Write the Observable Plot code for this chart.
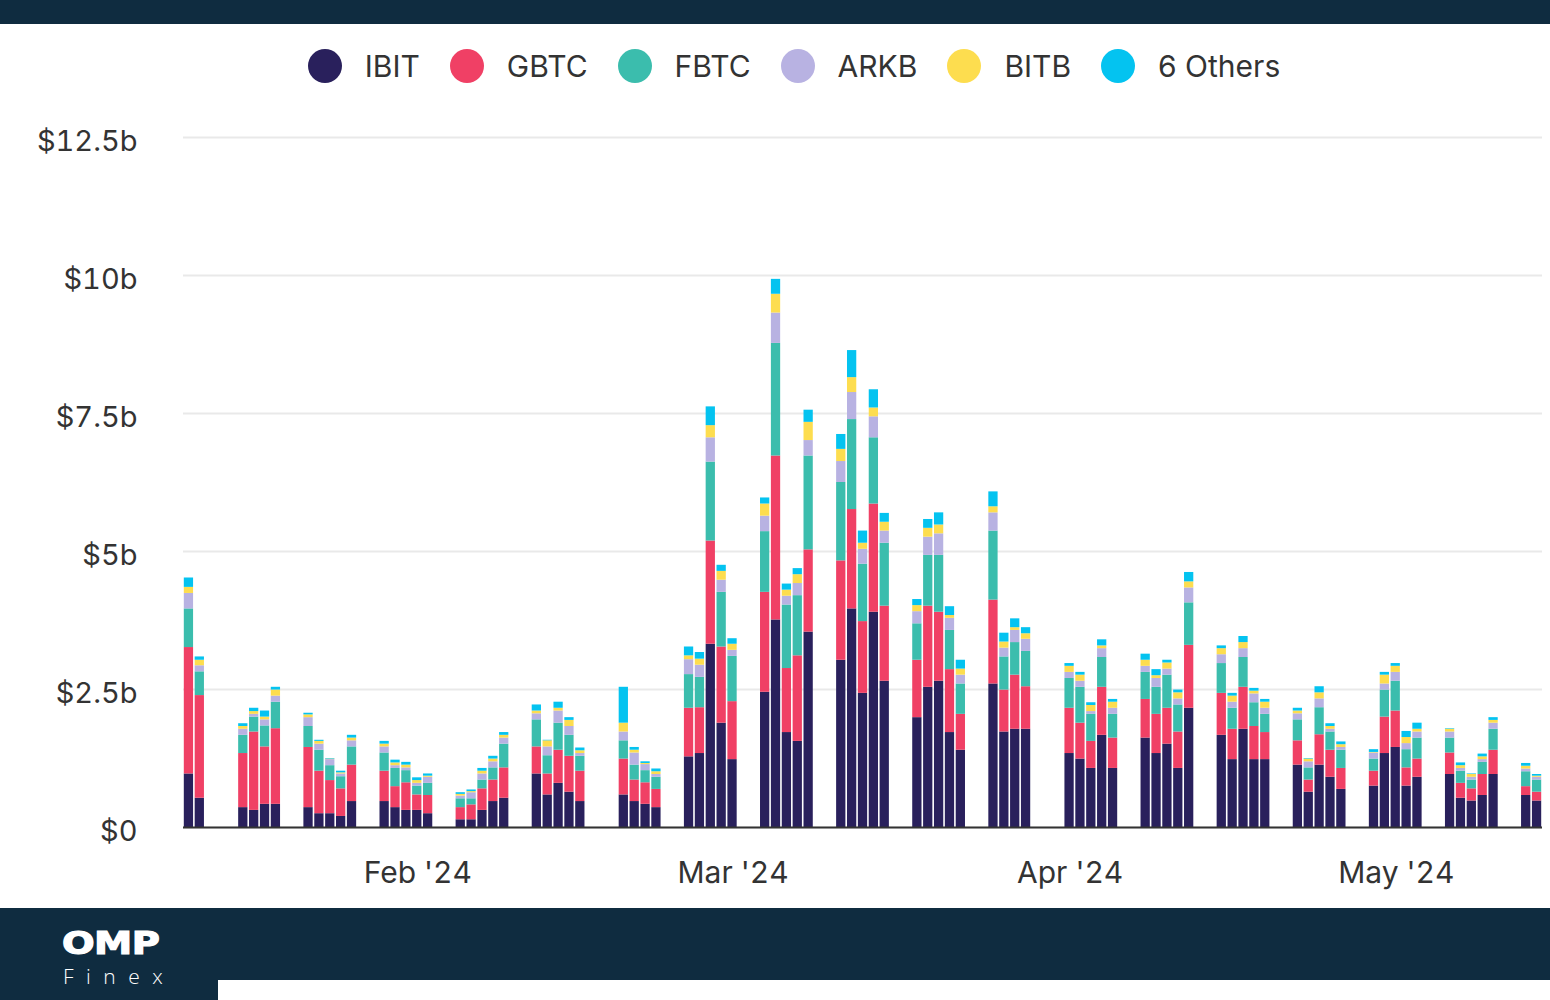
<!DOCTYPE html>
<html>
<head>
<meta charset="utf-8">
<script src="https://cdn.jsdelivr.net/npm/d3@7"></script>
<script src="https://cdn.jsdelivr.net/npm/@observablehq/plot@0.6"></script>
<style>
  html, body { margin: 0; padding: 0; background: #fff; }
  #page { position: relative; width: 1550px; height: 1000px; overflow: hidden; background: #fff; font-family: Inter, "Open Sans", sans-serif; }
  #topband { position: absolute; left: 0; top: 0; width: 1550px; height: 24px; background: #0f2c40; }
  #legend { position: absolute; left: 0; top: 44px; width: 1550px; padding-left: 38px; box-sizing: border-box; display: flex; justify-content: center; align-items: center; height: 44px; }
  .item { display: flex; align-items: center; margin: 0 15px; }
  .sw { width: 34px; height: 34px; border-radius: 50%; margin-right: 23px; }
  .lab { font-size: 30px; color: #333; }
  #chart { position: absolute; left: 0; top: 110px; }
  #footer { position: absolute; left: 0; top: 908px; width: 1550px; height: 92px; background: #0f2c40; }
  #white { position: absolute; left: 218px; top: 980px; width: 1332px; height: 20px; background: #fff; }
  #omp { position: absolute; left: 62px; top: 927px; font-family: "DejaVu Sans", sans-serif; font-weight: 700; font-size: 32px; color: #fff; line-height: 1; letter-spacing: -0.5px; transform: scaleX(1.2); transform-origin: left top; white-space: nowrap; -webkit-text-stroke: 1.2px #fff; }
  #finex { position: absolute; left: 63px; top: 966px; font-family: "Open Sans", sans-serif; font-weight: 300; font-size: 21px; color: #fff; letter-spacing: 12.5px; line-height: 1; white-space: nowrap; }
</style>
</head>
<body>
<div id="page">
  <div id="topband"></div>
  <div id="legend"></div>
  <div id="chart"></div>
  <div id="footer"></div>
  <div id="white"></div>
  <div id="omp">OMP</div>
  <div id="finex">Finex</div>
</div>
<script>
const tickers = ["IBIT", "GBTC", "FBTC", "ARKB", "BITB", "6 Others"];
const colors = ["#29205c", "#f04065", "#3bbdad", "#b8b2e2", "#fddd4f", "#04c3f0"];
const yTicks = [0, 2.5, 5, 7.5, 10, 12.5];
const monthTicks = ["2024-02-01", "2024-03-01", "2024-04-01", "2024-05-01"];

const dates = [
  "2024-01-11","2024-01-12","2024-01-16","2024-01-17","2024-01-18","2024-01-19","2024-01-22","2024-01-23","2024-01-24","2024-01-25","2024-01-26","2024-01-29","2024-01-30","2024-01-31",
  "2024-02-01","2024-02-02","2024-02-05","2024-02-06","2024-02-07","2024-02-08","2024-02-09","2024-02-12","2024-02-13","2024-02-14","2024-02-15","2024-02-16","2024-02-20","2024-02-21","2024-02-22","2024-02-23","2024-02-26","2024-02-27","2024-02-28","2024-02-29",
  "2024-03-01","2024-03-04","2024-03-05","2024-03-06","2024-03-07","2024-03-08","2024-03-11","2024-03-12","2024-03-13","2024-03-14","2024-03-15","2024-03-18","2024-03-19","2024-03-20","2024-03-21","2024-03-22","2024-03-25","2024-03-26","2024-03-27","2024-03-28",
  "2024-04-01","2024-04-02","2024-04-03","2024-04-04","2024-04-05","2024-04-08","2024-04-09","2024-04-10","2024-04-11","2024-04-12","2024-04-15","2024-04-16","2024-04-17","2024-04-18","2024-04-19","2024-04-22","2024-04-23","2024-04-24","2024-04-25","2024-04-26","2024-04-29","2024-04-30",
  "2024-05-01","2024-05-02","2024-05-03","2024-05-06","2024-05-07","2024-05-08","2024-05-09","2024-05-10","2024-05-13","2024-05-14"
];

// daily trading volume, $ billions
const ibit = [
  0.97,0.53,0.36,0.31,0.42,0.42,0.36,0.25,0.25,0.20,0.47,0.47,0.36,0.31,
  0.31,0.25,0.14,0.14,0.31,0.47,0.53,0.97,0.59,0.80,0.64,0.47,0.59,0.47,0.42,0.36,1.28,1.34,3.32,1.89,
  1.23,2.45,3.76,1.72,1.56,3.54,3.03,3.96,2.43,3.90,2.65,1.99,2.54,2.65,1.72,1.40,2.60,1.73,1.78,1.78,
  1.34,1.24,1.07,1.67,1.07,1.62,1.34,1.51,1.07,2.16,1.67,1.23,1.78,1.23,1.23,1.13,0.64,1.13,0.91,0.69,0.75,1.34,
  1.45,0.75,0.91,0.96,0.53,0.48,0.58,0.96,0.58,0.48
];
const gbtc = [
  2.29,1.86,0.98,1.42,1.04,1.37,1.09,0.77,0.60,0.50,0.66,0.55,0.38,0.50,
  0.28,0.33,0.22,0.27,0.39,0.39,0.55,0.49,0.38,0.60,0.65,0.55,0.65,0.39,0.39,0.33,0.88,0.83,1.87,1.38,
  1.05,1.81,2.97,1.16,1.55,1.49,1.80,1.80,1.30,1.96,1.36,1.04,1.47,1.25,1.14,0.65,1.52,0.76,0.98,0.77,
  0.82,0.65,0.49,0.87,0.55,0.70,0.71,0.65,0.66,1.14,0.76,0.55,0.76,0.60,0.49,0.44,0.22,0.55,0.49,0.38,0.27,0.66,
  0.66,0.33,0.33,0.39,0.27,0.22,0.38,0.44,0.16,0.16
];
const fbtc = [
  0.70,0.43,0.33,0.27,0.38,0.48,0.38,0.38,0.27,0.22,0.33,0.33,0.33,0.22,
  0.16,0.22,0.16,0.11,0.16,0.22,0.43,0.49,0.33,0.49,0.38,0.27,0.33,0.27,0.22,0.22,0.61,0.55,1.43,0.99,
  0.82,1.10,2.04,1.15,1.09,1.70,1.42,1.63,1.04,1.20,1.14,0.66,0.92,1.03,0.71,0.55,1.25,0.60,0.59,0.64,
  0.54,0.65,0.49,0.54,0.43,0.49,0.49,0.60,0.49,0.77,0.54,0.38,0.54,0.43,0.33,0.38,0.22,0.49,0.33,0.33,0.22,0.49,
  0.54,0.33,0.38,0.27,0.22,0.16,0.22,0.38,0.27,0.22
];
const arkb = [
  0.28,0.11,0.11,0.05,0.11,0.11,0.16,0.11,0.11,0.05,0.11,0.11,0.05,0.05,
  0.05,0.11,0.05,0.11,0.11,0.11,0.11,0.11,0.16,0.22,0.16,0.05,0.16,0.22,0.11,0.05,0.27,0.22,0.44,0.22,
  0.11,0.28,0.55,0.16,0.22,0.28,0.38,0.49,0.27,0.38,0.22,0.22,0.33,0.39,0.22,0.16,0.33,0.16,0.22,0.22,
  0.11,0.11,0.05,0.16,0.11,0.11,0.16,0.11,0.11,0.27,0.16,0.11,0.16,0.16,0.11,0.11,0.11,0.16,0.05,0.05,0.11,0.11,
  0.16,0.11,0.11,0.11,0.05,0.05,0.05,0.11,0.05,0.05
];
const bitb = [
  0.11,0.10,0.05,0.05,0.05,0.11,0.05,0.05,0.01,0.02,0.05,0.05,0.05,0.05,
  0.05,0.02,0.03,0.02,0.05,0.05,0.05,0.05,0.11,0.05,0.11,0.05,0.16,0.05,0.02,0.05,0.07,0.11,0.22,0.16,
  0.11,0.22,0.34,0.11,0.16,0.33,0.22,0.27,0.11,0.16,0.16,0.11,0.16,0.16,0.05,0.11,0.11,0.11,0.05,0.10,
  0.11,0.11,0.11,0.05,0.11,0.11,0.05,0.11,0.11,0.11,0.11,0.11,0.11,0.05,0.11,0.05,0.05,0.11,0.05,0.05,0.01,0.16,
  0.11,0.11,0.05,0.05,0.05,0.05,0.05,0.05,0.05,0.02
];
const others = [
  0.17,0.06,0.05,0.06,0.11,0.05,0.03,0.02,0.01,0.03,0.05,0.05,0.05,0.05,
  0.05,0.04,0.03,0.03,0.05,0.05,0.05,0.11,0.01,0.11,0.05,0.05,0.65,0.05,0.03,0.05,0.16,0.12,0.34,0.11,
  0.10,0.11,0.27,0.11,0.11,0.22,0.27,0.49,0.22,0.33,0.16,0.11,0.16,0.22,0.16,0.16,0.27,0.16,0.16,0.11,
  0.05,0.05,0.05,0.11,0.05,0.11,0.11,0.05,0.05,0.17,0.05,0.05,0.11,0.05,0.05,0.05,0.01,0.11,0.05,0.05,0.05,0.05,
  0.05,0.11,0.11,0.01,0.05,0.01,0.05,0.05,0.05,0.03
];

const series = [ibit, gbtc, fbtc, arkb, bitb, others];
const data = [];
dates.forEach((d, i) => {
  tickers.forEach((t, k) => data.push({date: new Date(d), ticker: t, value: series[k][i]}));
});

// legend
const legend = document.getElementById("legend");
tickers.forEach((t, k) => {
  const it = document.createElement("div");
  it.className = "item";
  const sw = document.createElement("div");
  sw.className = "sw";
  sw.style.background = colors[k];
  const lab = document.createElement("span");
  lab.className = "lab";
  lab.textContent = t;
  it.appendChild(sw); it.appendChild(lab);
  legend.appendChild(it);
});

const fmtMonth = d3.utcFormat("%b '%y");
const chart = Plot.plot({
  width: 1550,
  height: 800,
  marginTop: 27,
  marginBottom: 83,
  marginLeft: 183,
  marginRight: 8,
  style: {fontFamily: "Inter, 'Open Sans', sans-serif", color: "#333", background: "transparent"},
  x: {type: "utc", domain: [new Date("2024-01-11"), new Date("2024-05-15")], label: null},
  y: {domain: [0, 12.5], label: null},
  color: {domain: tickers, range: colors},
  marks: [
    Plot.gridY(yTicks, {stroke: "#e9e9e9", strokeOpacity: 1, strokeWidth: 2}),
    Plot.rectY(data, {x: "date", y: "value", interval: "day", fill: "ticker", insetLeft: 0.8, insetRight: 0.8}),
    Plot.ruleY([0], {stroke: "#333", strokeWidth: 2}),
    Plot.axisX(monthTicks.map(d => new Date(d)), {tickSize: 0, tickPadding: 34, fontSize: 30, dx: 6, tickFormat: d => fmtMonth(d), fill: "#333", label: null}),
    Plot.axisY(yTicks, {tickSize: 0, tickPadding: 46, fontSize: 29, dy: 4, tickFormat: d => d === 0 ? "$0" : `$${d}b`, fill: "#333", label: null})
  ]
});
document.getElementById("chart").appendChild(chart);
</script>
</body>
</html>
